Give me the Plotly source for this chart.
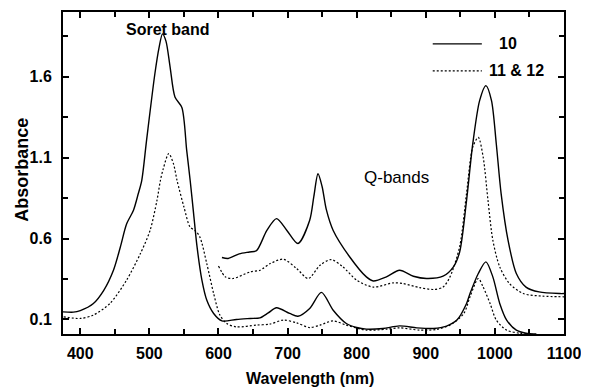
import plotly.graph_objects as go

# ---- data ----
x_10_low = [375, 390, 400, 419, 434, 448, 458, 467, 477, 484, 489, 496, 508, 514, 519, 524, 530, 537, 547, 554,
            559, 564, 569, 576, 583, 593, 605, 626, 646, 660, 672, 684, 703, 715, 732, 749, 766, 785, 800, 814,
            838, 862, 887, 911, 930, 945, 959, 964, 976, 987, 997, 1007, 1017, 1031, 1045, 1060]
y_10_low = [0.147, 0.145, 0.155, 0.199, 0.28, 0.404, 0.548, 0.69, 0.775, 0.878, 0.96, 1.21, 1.62, 1.78, 1.865, 1.82,
            1.66, 1.475, 1.41, 1.145, 0.96, 0.754, 0.548, 0.343, 0.22, 0.137, 0.091, 0.10, 0.106, 0.11, 0.14,
            0.172, 0.137, 0.12, 0.168, 0.267, 0.157, 0.075, 0.05, 0.04, 0.044, 0.06, 0.048, 0.044, 0.059, 0.096,
            0.199, 0.26, 0.384, 0.456, 0.363, 0.199, 0.096, 0.034, 0.015, 0.01]

x_1112_low = [376, 400, 419, 443, 467, 487, 501, 511, 516, 520, 528, 535, 540, 550, 559, 566, 573, 583, 593, 602,
              612, 626, 655, 674, 694, 713, 732, 747, 766, 785, 814, 843, 862, 891, 915, 935, 955, 964, 976, 983,
              993, 1002, 1017, 1036, 1055]
y_1112_low = [0.116, 0.106, 0.127, 0.199, 0.343, 0.507, 0.65, 0.836, 0.96, 1.03, 1.125, 1.06, 0.96, 0.795, 0.67,
              0.65, 0.61, 0.446, 0.26, 0.127, 0.075, 0.054, 0.065, 0.071, 0.096, 0.079, 0.05, 0.065, 0.091, 0.065,
              0.034, 0.04, 0.048, 0.034, 0.038, 0.065, 0.137, 0.24, 0.353, 0.30, 0.199, 0.096, 0.034, 0.015, 0.01]

x_10_q = [605, 614, 630, 645, 655, 670, 684, 699, 715, 732, 738, 744, 750, 756, 766, 790, 814, 824, 843, 862, 882,
          901, 925, 940, 949, 959, 968, 978, 987, 995, 1002, 1009, 1019, 1031, 1045, 1064, 1094, 1100]
y_10_q = [0.483, 0.477, 0.505, 0.517, 0.525, 0.65, 0.723, 0.65, 0.569, 0.713, 0.86, 1.00, 0.92, 0.78, 0.65, 0.486,
          0.363, 0.338, 0.363, 0.404, 0.367, 0.353, 0.367, 0.425, 0.517, 0.836, 1.186, 1.454, 1.545, 1.454, 1.186,
          0.878, 0.59, 0.384, 0.30, 0.27, 0.26, 0.26]

x_1112_q = [600, 610, 621, 646, 660, 675, 694, 713, 730, 747, 763, 780, 800, 824, 853, 867, 891, 911, 925, 935, 949,
            959, 968, 976, 983, 990, 997, 1007, 1021, 1041, 1069, 1100]
y_1112_q = [0.43, 0.363, 0.353, 0.394, 0.404, 0.446, 0.472, 0.415, 0.353, 0.435, 0.47, 0.425, 0.343, 0.30, 0.326,
            0.322, 0.297, 0.285, 0.30, 0.363, 0.55, 0.88, 1.165, 1.225, 1.104, 0.836, 0.59, 0.425, 0.322, 0.26,
            0.244, 0.24]

x_ticks = [400, 500, 600, 700, 800, 900, 1000, 1100]
y_ticks = [0.1, 0.6, 1.1, 1.6]

FONT = "Liberation Sans, Arial, sans-serif"
solid = dict(color="black", width=1.4, shape="spline", smoothing=0.8)
dotted = dict(color="black", width=1.2, dash="2px,2px", shape="spline", smoothing=0.8)
key_solid = dict(color="black", width=1.4)
key_dotted = dict(color="black", width=1.2, dash="2px,2px")

fig = go.Figure()
fig.add_trace(go.Scatter(x=x_10_low, y=y_10_low, mode="lines", line=solid, name="10", showlegend=False))
fig.add_trace(go.Scatter(x=x_1112_low, y=y_1112_low, mode="lines", line=dotted, name="11 & 12", showlegend=False))
fig.add_trace(go.Scatter(x=x_10_q, y=y_10_q, mode="lines", line=solid, name="10 (Q-bands)", showlegend=False))
fig.add_trace(go.Scatter(x=x_1112_q, y=y_1112_q, mode="lines", line=dotted, name="11 & 12 (Q-bands)",
                         showlegend=False))

# legend drawn as key lines + labels (paper coords)
fig.add_shape(type="line", xref="paper", yref="paper", x0=0.738, x1=0.836, y0=0.901, y1=0.901, line=key_solid)
fig.add_shape(type="line", xref="paper", yref="paper", x0=0.738, x1=0.836, y0=0.817, y1=0.817, line=key_dotted)
fig.add_annotation(xref="paper", yref="paper", x=0.866, y=0.901, text="10", showarrow=False,
                   xanchor="left", yanchor="middle", font=dict(family=FONT, size=16, weight="bold", color="black"))
fig.add_annotation(xref="paper", yref="paper", x=0.846, y=0.817, text="11 & 12", showarrow=False,
                   xanchor="left", yanchor="middle", font=dict(family=FONT, size=16, weight="bold", color="black"))

fig.add_annotation(x=527, y=1.89, text="Soret band", showarrow=False, xanchor="center", yanchor="middle",
                   font=dict(family=FONT, size=16, weight="bold", color="black"))
fig.add_annotation(x=857, y=0.98, text="Q-bands", showarrow=False, xanchor="center", yanchor="middle",
                   font=dict(family=FONT, size=17, color="black"))

# axis titles
fig.add_annotation(xref="paper", yref="paper", x=0.493, y=-0.138, text="Wavelength (nm)", showarrow=False,
                   xanchor="center", yanchor="middle",
                   font=dict(family=FONT, size=16, weight="bold", color="black"))
fig.add_annotation(xref="paper", yref="paper", x=-0.082, y=0.51, text="Absorbance", showarrow=False,
                   textangle=-90, xanchor="center", yanchor="middle",
                   font=dict(family=FONT, size=18, weight="bold", color="black"))

axis_common = dict(showline=True, linecolor="black", linewidth=2, mirror="ticks", ticks="inside",
                   ticklen=6, tickwidth=1.5, tickcolor="black", showgrid=False, zeroline=False,
                   automargin=False,
                   tickfont=dict(family=FONT, size=16, weight="bold", color="black"))

fig.update_xaxes(range=[375, 1100], tickvals=x_ticks, ticktext=[str(v) for v in x_ticks],
                 minor=dict(tickvals=[450, 550, 650, 750, 850, 950, 1050], ticks="inside", ticklen=5,
                            tickwidth=1.5, tickcolor="black"),
                 ticklabelstandoff=4, **axis_common)
fig.update_yaxes(range=[0.01, 2.0], tickvals=y_ticks, ticktext=[f"{v:.1f}" for v in y_ticks],
                 minor=dict(tickvals=[0.35, 0.85, 1.35, 1.85], ticks="inside", ticklen=5,
                            tickwidth=1.5, tickcolor="black"),
                 ticklabelstandoff=6, **axis_common)

# the page body adds an 8px offset, so the plot area is placed to land where the reference has it
fig.update_layout(width=581, height=388, margin=dict(l=55, r=25, t=4, b=62),
                  plot_bgcolor="white", paper_bgcolor="white", showlegend=False)

fig.write_html("out.html")
